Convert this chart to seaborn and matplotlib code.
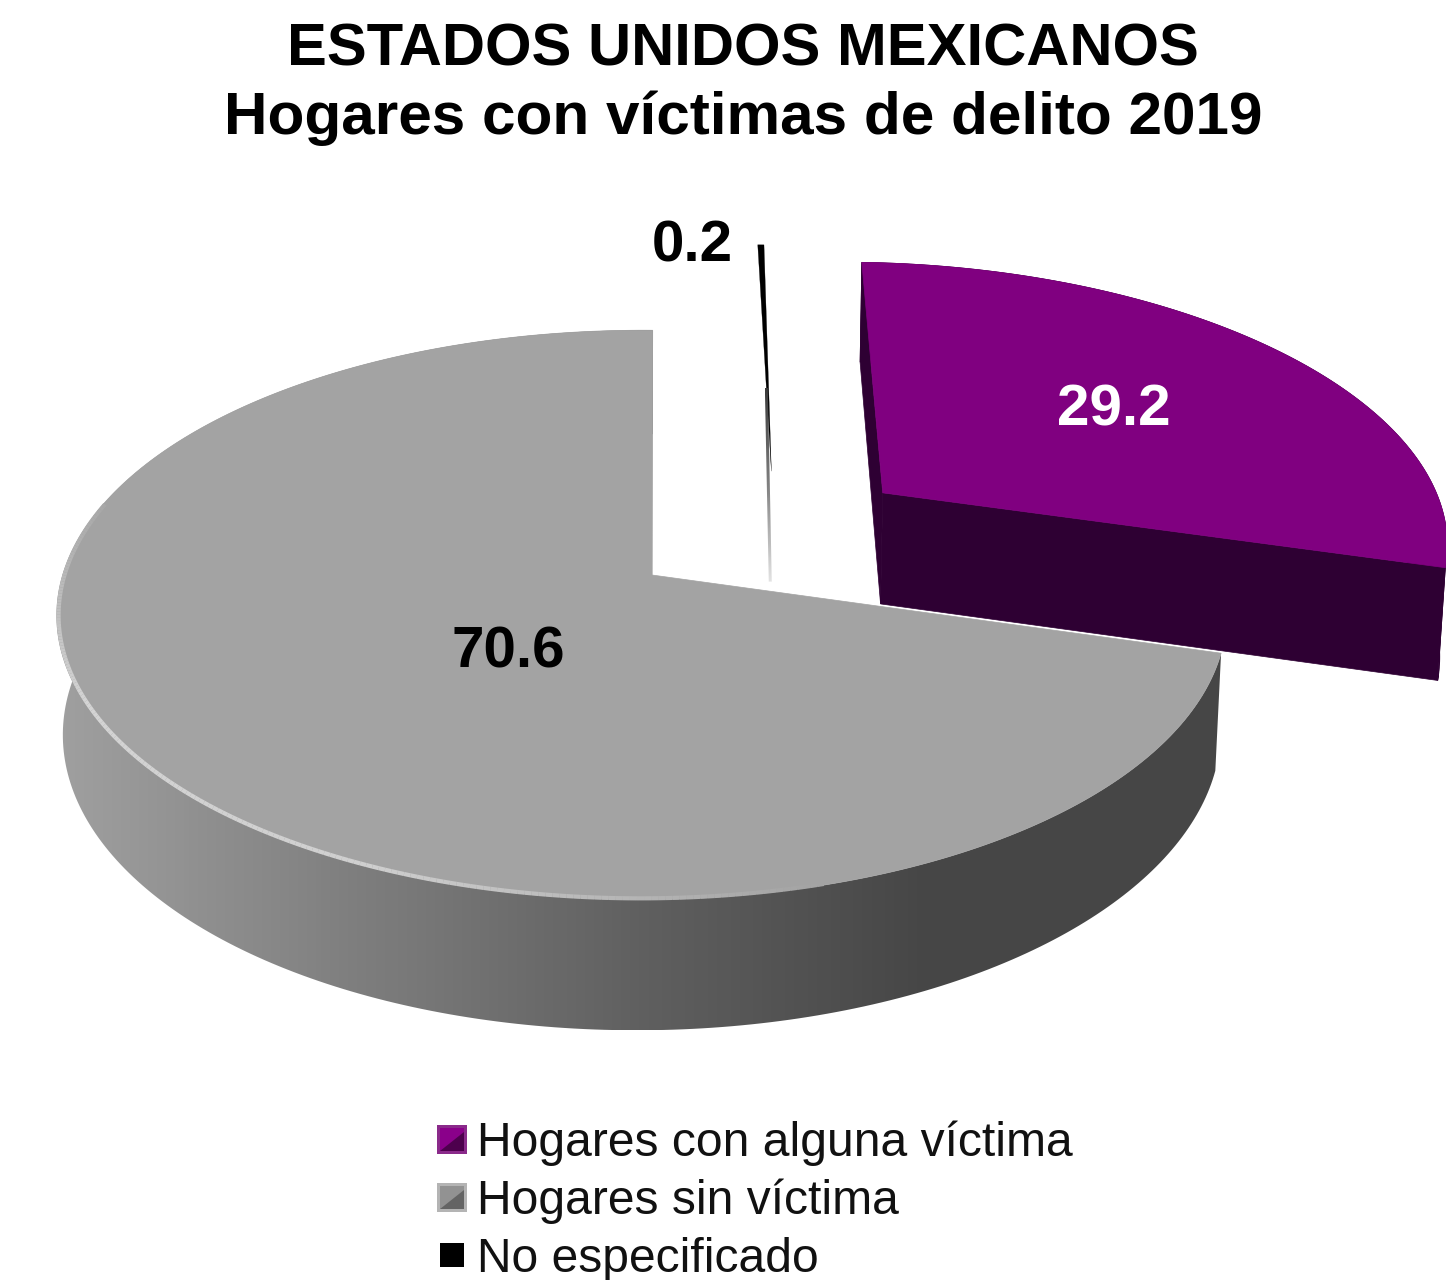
import numpy as np
import seaborn as sns
import matplotlib.pyplot as plt
from matplotlib.patches import Polygon, Rectangle
from matplotlib.legend_handler import HandlerBase
from matplotlib.collections import LineCollection

titulo = ['ESTADOS UNIDOS MEXICANOS', 'Hogares con víctimas de delito 2019']
categorias = ['Hogares con alguna víctima', 'Hogares sin víctima', 'No especificado']
valores = [29.2, 70.6, 0.2]
etiquetas = ['29.2', '70.6', '0.2']

#colores: cara superior, pared
superior = ['#800080', '#a3a3a3', '#000000']
pared = ['#2e0033', '#6e6e6e', '#555555']
explosion = [0.262, 0.246, 0.246]
#ajustes finos de cada rebanada
desvio_x = [0.012, 0.0, 0.02]
desvio_y = [-0.005, 0.0, 0.0]
radio = [1.03, 1.0, 1.03]

sns.set_theme(style='white')
plt.rcParams['font.family'] = ['Liberation Sans', 'DejaVu Sans']

fig = plt.figure(figsize=(14.46, 12.8), dpi=100)
ax = fig.add_axes([0, 0, 1, 1])

#proyeccion del pastel en perspectiva (pixeles, y hacia abajo)
PX, PY = 652, 575
A, B, D = 579, 279, 117
K, J, M = 0.14, 0.0175, 0.01
INICIO = 0.8


def proyectar(X, Y, Z=0.0):
    w = 1 - K * Y + J * X + M * Z
    return PX + A * X / w, PY + (B * Y + D * Z) / w


def puntos(t, r, centro, Z=0.0):
    t = np.radians(t)
    x, y = proyectar(centro[0] + r * np.sin(t), centro[1] - r * np.cos(t), Z)
    return np.column_stack([x, y])


#angulos a partir de los valores
acum = np.cumsum([0] + valores) / sum(valores) * 360 + INICIO
medio = (acum[:-1] + acum[1:]) / 2
base = np.array([np.sin(np.radians(medio[1])), -np.cos(np.radians(medio[1]))]) * explosion[1]
centros = []
for i in range(3):
    c = np.array([np.sin(np.radians(medio[i])), -np.cos(np.radians(medio[i]))]) * explosion[i]
    centros.append(c - base + np.array([desvio_x[i], desvio_y[i]]))

degradado_gris = sns.blend_palette(['#a0a0a0', '#7f7f7f', '#606060', '#464646', '#464646'], as_cmap=True)
degradado_negro = sns.blend_palette(['#3a3a3a', '#808080', '#e4e4e4'], as_cmap=True)


def gradiente(pts, cmap, z, vertical=False):
    poly = Polygon(pts, closed=True, fc='none', ec='none', zorder=z)
    ax.add_patch(poly)
    g = np.linspace(0, 1, 256)
    g = g[:, None] if vertical else g[None, :]
    im = ax.imshow(g, cmap=cmap, aspect='auto', zorder=z,
                   extent=[pts[:, 0].min(), pts[:, 0].max(), pts[:, 1].max(), pts[:, 1].min()])
    im.set_clip_path(poly)


def rebanada(i, z):
    t = np.linspace(acum[i], acum[i + 1], 300)
    c = centros[i]
    r = radio[i]
    arriba = puntos(t, r, c)
    abajo = puntos(t, r, c, 1.0)
    apice = puntos(np.array([0.0]), 0, c)
    apice_b = puntos(np.array([0.0]), 0, c, 1.0)
    lado = np.vstack([arriba, abajo[::-1]])
    #paredes rectas
    muro1 = np.vstack([apice, arriba[:1], abajo[:1], apice_b])
    muro2 = np.vstack([apice, arriba[-1:], abajo[-1:], apice_b])
    tapa = np.vstack([apice, arriba])
    if i == 1:
        ax.add_patch(Polygon(muro2, closed=True, fc='#8c8c8c', ec='none', zorder=z))
        gradiente(lado, degradado_gris, z)
    elif i == 0:
        for forma in (lado, muro1, muro2):
            ax.add_patch(Polygon(forma, closed=True, fc=pared[i], ec=pared[i], lw=0.5, zorder=z))
    ax.add_patch(Polygon(tapa, closed=True, fc=superior[i], ec=superior[i], lw=0.2 if i == 2 else 0.5, zorder=z + 1))
    if i == 2:
        #la pared de esta rebanada se ve como una linea que se desvanece
        ini = puntos(t[:1], 0.35, c)[0]
        fin = apice_b[0]
        tira = np.array([[ini[0] - 1.5, ini[1]], [ini[0] + 1.5, ini[1]], [fin[0] + 1.5, fin[1]], [fin[0] - 1.5, fin[1]]])
        gradiente(tira, degradado_negro, z + 2, vertical=True)


#de atras hacia adelante
rebanada(0, 2)
rebanada(2, 5)
rebanada(1, 8)

#brillo del borde en la parte frontal izquierda
t = np.linspace(165, 285, 200)
borde = puntos(t, 0.997, centros[1])
segmentos = np.stack([borde[:-1], borde[1:]], axis=1)
paleta_brillo = sns.blend_palette(['#a3a3a3', '#cfcfcf', '#d4d4d4', '#a8a8a8'], 199)
ax.add_collection(LineCollection(segmentos, colors=paleta_brillo, linewidths=3, zorder=10))

ax.set_xlim(0, 1446)
ax.set_ylim(1280, 0)
ax.axis('off')

#titulo
ax.text(743, 50, titulo[0], ha='center', va='center', fontsize=43, fontweight='bold', color='black', zorder=12)
ax.text(743, 118, titulo[1], ha='center', va='center', fontsize=43.4, fontweight='bold', color='black', zorder=12)

#etiquetas de datos
ax.text(1114, 410, etiquetas[0], ha='center', va='center', fontsize=42, fontweight='bold', color='white', zorder=12)
ax.text(508, 652, etiquetas[1], ha='center', va='center', fontsize=42, fontweight='bold', color='black', zorder=12)
ax.text(692, 247, etiquetas[2], ha='center', va='center', fontsize=42, fontweight='bold', color='black', zorder=12)


#marcadores de la leyenda con biselado
class Marcador(HandlerBase):
    def __init__(self, claro, medio, oscuro):
        super().__init__()
        self.tonos = (claro, medio, oscuro)

    def create_artists(self, legend, orig_handle, xd, yd, w, h, fontsize, trans):
        claro, medio, oscuro = self.tonos
        x0, y0 = -xd, -yd
        piezas = [Rectangle((x0, y0), w, h, fc=claro, ec='none'),
                  Rectangle((x0 + w * .1, y0 + h * .1), w * .8, h * .8, fc=medio, ec='none'),
                  Polygon([(x0 + w * .1, y0 + h * .1), (x0 + w * .9, y0 + h * .1), (x0 + w * .9, y0 + h * .75)],
                          fc=oscuro, ec='none')]
        for p in piezas:
            p.set_transform(trans)
        return piezas


h = [Rectangle((0, 0), 1, 1, label=c) for c in categorias]
mapa = {h[0]: Marcador('#8a2a8a', '#8a008a', '#4d004d'),
        h[1]: Marcador('#b4b4b4', '#929292', '#646464'),
        h[2]: Marcador('#ffffff', '#000000', '#000000')}
ax.legend(handles=h, handler_map=mapa, loc='upper left', bbox_to_anchor=(437 / 1446, 1 - 1121 / 1280),
          borderaxespad=0, borderpad=0, frameon=False, fontsize=34.6, labelcolor='#111111',
          handlelength=0.62, handleheight=0.56, handletextpad=0.22, labelspacing=0.26)

fig.savefig('out.png', dpi=100)
